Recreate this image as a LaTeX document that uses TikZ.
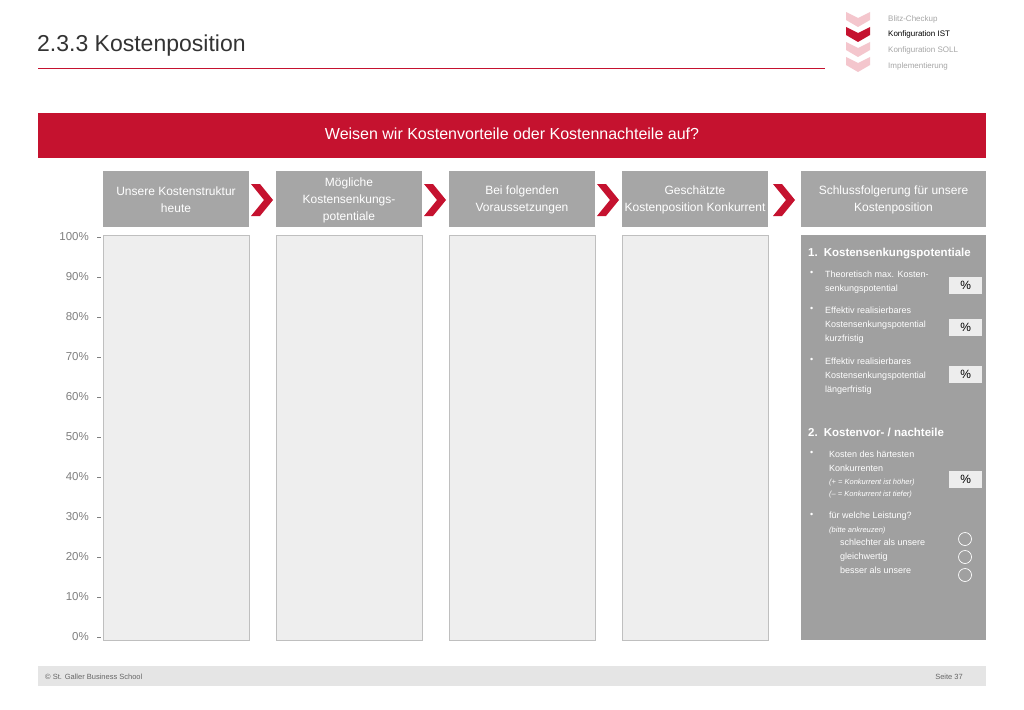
\documentclass[tikz,border=0pt]{standalone}
\usepackage{fontspec}
\setmainfont{Liberation Sans}
\begin{document}
\begin{tikzpicture}[x=1pt,y=-1pt,
  hdr/.style={text=white,align=center,font=\fontsize{12}{17}\selectfont,inner sep=0pt},
  col/.style={fill=colgray,draw=colline,line width=0.6pt},
  ylab/.style={anchor=east,text=axgray,font=\fontsize{11.5}{13}\selectfont,inner sep=0pt},
  rt/.style={anchor=north west,text=white,align=left,font=\fontsize{9}{14}\selectfont,inner sep=0pt},
  pct/.style={fill=pctgray,anchor=north west,minimum width=33pt,minimum height=17pt,inner sep=2pt,text=black,font=\fontsize{12}{12}\selectfont,align=right},
  circ/.style={draw=white,line width=0.7pt,circle,minimum size=13pt,inner sep=0pt}]
\definecolor{myred}{HTML}{C5122F}
\definecolor{hgray}{HTML}{A6A6A6}
\definecolor{colgray}{HTML}{EEEEEE}
\definecolor{colline}{HTML}{BFBFBF}
\definecolor{axgray}{HTML}{7F7F7F}
\definecolor{pgray}{HTML}{A0A0A0}
\definecolor{pctgray}{HTML}{EDEDED}
\definecolor{pink}{HTML}{F4C6CD}
\useasboundingbox (0,0) rectangle (1024,709);
\fill[white] (0,0) rectangle (1024,709);
% title
\node[anchor=west,inner sep=0pt,text=black!80,font=\fontsize{23}{26}\selectfont] (title) at (37,46) {2.3.3 Kostenposition};
\draw[myred,line width=0.8pt] (38,68) -- (825,68);
% nav chevrons
\foreach \y/\c in {12/pink,27/myred,42/pink,57/pink}{
  \fill[\c] (846,\y) -- (858,\y+6) -- (870,\y) -- (870,\y+8) -- (858,\y+15) -- (846,\y+8) -- cycle;}
\node[anchor=west,inner sep=0pt,text=black!35,font=\fontsize{8}{9}\selectfont] (n1) at (888,19) {Blitz-Checkup};
\node[anchor=west,inner sep=0pt,text=black,font=\fontsize{8}{9}\selectfont] (n2) at (888,34) {Konfiguration IST};
\node[anchor=west,inner sep=0pt,text=black!35,font=\fontsize{8}{9}\selectfont] (n3) at (888,50) {Konfiguration SOLL};
\node[anchor=west,inner sep=0pt,text=black!35,font=\fontsize{8}{9}\selectfont] (n4) at (888,66) {Implementierung};
% banner
\fill[myred] (38,113) rectangle (986,158);
\node[text=white,font=\fontsize{16}{18}\selectfont,inner sep=0pt] (banner) at (512,134) {Weisen wir Kostenvorteile oder Kostennachteile auf?};
% headers
\foreach \x/\w/\t [count=\i] in {103/146/{Unsere Kostenstruktur\\heute},276/146/{Mögliche\\Kostensenkungs-\\potentiale},449/146/{Bei folgenden\\Voraussetzungen},622/146/{Geschätzte\\Kostenposition Konkurrent},801/185/{Schlussfolgerung für unsere\\Kostenposition}}{
  \fill[hgray] (\x,171) rectangle (\x+\w,227);
  \node[hdr] (h\i) at (\x+\w/2,200) {\t};}
% red chevrons
\foreach \x in {251,424,597,773}{
  \fill[myred] (\x,184) -- (\x+9,184) -- (\x+22,200) -- (\x+9,216) -- (\x,216) -- (\x+13,200) -- cycle;}
% columns
\foreach \x [count=\i] in {103,276,449,622}{
  \draw[col] (\x,235) rectangle (\x+146,640);}
% axis
\foreach \v [count=\i from 0] in {100,90,80,70,60,50,40,30,20,10,0}{
  \node[ylab] (y\i) at (89,237+40*\i) {\v\%};
  \draw[axgray,line width=0.8pt] (97,237+40*\i) -- (101,237+40*\i);}
% right panel
\fill[pgray] (801,235) rectangle (986,640);
\node[rt,font=\bfseries\fontsize{11.5}{13}\selectfont] (k1) at (808,248) {1.\hspace{6pt}Kostensenkungspotentiale};
\node[rt] (b1) at (810,271) {•};
\node[rt] (t1) at (825,271) {Theoretisch max. Kosten-\\senkungspotential};
\node[pct] (p1) at (949,277) {\%};
\node[rt] (b2) at (810,307) {•};
\node[rt] (t2) at (825,307) {Effektiv realisierbares\\Kostensenkungspotential\\kurzfristig};
\node[pct] (p2) at (949,319) {\%};
\node[rt] (b3) at (810,358) {•};
\node[rt] (t3) at (825,358) {Effektiv realisierbares\\Kostensenkungspotential\\längerfristig};
\node[pct] (p3) at (949,366) {\%};
\node[rt,font=\bfseries\fontsize{11.5}{13}\selectfont] (k2) at (808,428) {2.\hspace{6pt}Kostenvor- / nachteile};
\node[rt] (b4) at (810,451) {•};
\node[rt] (t4) at (829,451) {Kosten des härtesten\\Konkurrenten};
\node[rt,font=\itshape\fontsize{7.5}{12}\selectfont] (t5) at (829,479) {(+ = Konkurrent ist höher)\\(– = Konkurrent ist tiefer)};
\node[pct] (p4) at (949,471) {\%};
\node[rt] (b5) at (810,513) {•};
\node[rt] (t6) at (829,512) {für welche Leistung?};
\node[rt,font=\itshape\fontsize{7.5}{12}\selectfont] (t7) at (829,527) {(bitte ankreuzen)};
\node[rt] (t8) at (840,539) {schlechter als unsere\\gleichwertig\\besser als unsere};
\node[circ] (c1) at (965,539) {};
\node[circ] (c2) at (965,557) {};
\node[circ] (c3) at (965,575) {};
% footer
\fill[black!10] (38,666) rectangle (986,686);
\node[anchor=west,inner sep=0pt,text=black!60,font=\fontsize{7.5}{9}\selectfont] (f1) at (45,677) {© St. Galler Business School};
\node[anchor=east,inner sep=0pt,text=black!60,font=\fontsize{7.5}{9}\selectfont] (f2) at (963,677) {Seite 37};
\end{tikzpicture}
\end{document}
